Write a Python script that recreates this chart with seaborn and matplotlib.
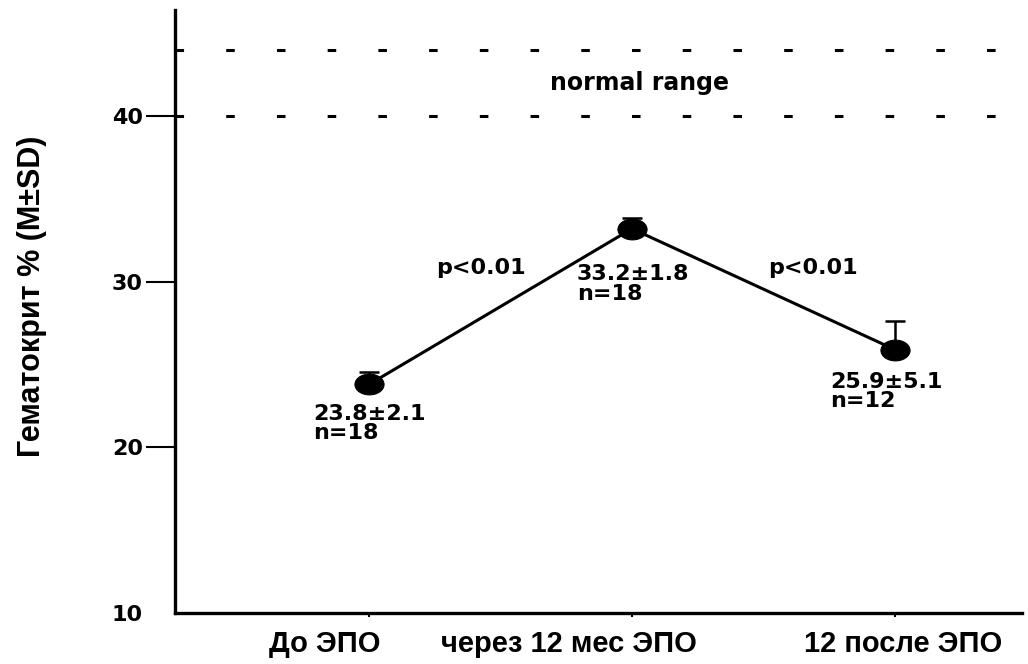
import numpy as np
import pandas as pd
import matplotlib
matplotlib.use("Agg")
import matplotlib.pyplot as plt
import matplotlib.transforms as mtransforms
from matplotlib.path import Path
import seaborn as sns

# ---- data ----
categories = ["До ЭПО", "через 12 мес ЭПО", "12 после ЭПО"]
means = [23.8, 33.2, 25.9]
err_upper = [0.75, 0.65, 1.7]          # drawn (upper) error bars
annot_mean = ["23.8±2.1", "33.2±1.8", "25.9±5.1"]
annot_n = ["n=18", "n=18", "n=12"]
p_labels = ["p<0.01", "p<0.01"]
normal_low, normal_high = 40, 44
yticks = [10, 20, 30, 40]

sns.set_theme(style="white")
plt.rcParams['font.family'] = ['Liberation Sans', 'DejaVu Sans']
plt.rcParams['text.color'] = 'black'
plt.rcParams['axes.labelcolor'] = 'black'
plt.rcParams['xtick.color'] = 'black'
plt.rcParams['ytick.color'] = 'black'

fig = plt.figure(figsize=(10.28, 6.64), dpi=100)
ax = fig.add_axes([0.1702, 0.0768, 0.8239, 0.9081])

pos = np.arange(len(categories))
df = pd.DataFrame({"pos": pos, "mean": means})

# elliptical marker (reference is horizontally stretched)
circ = Path.unit_circle()
ell = Path(circ.vertices * np.array([1.4, 1.0]), circ.codes)

ax.errorbar(pos, means, yerr=[np.zeros(len(means)), err_upper], fmt='none',
            ecolor='black', elinewidth=1.8, capsize=7, capthick=1.8, zorder=2)
sns.lineplot(data=df, x="pos", y="mean", ax=ax, color='black', linewidth=2.2,
             marker=ell, markersize=21, markerfacecolor='black',
             markeredgecolor='black', zorder=3)

# normal range dashed lines
for yv in (normal_low, normal_high):
    ax.axhline(yv, color='black', lw=2.2, linestyle=(0, (2.8, 13.8)), zorder=1)
ax.text(1.03, 42.0, "normal range", ha='center', va='center', color='black',
        fontsize=17, fontweight='bold', family='DejaVu Sans')

# p-values
p_x = [0.426, 1.688]
for px, lab in zip(p_x, p_labels):
    ax.text(px, 30.82, lab, ha='center', va='center', fontsize=16, color='black',
            fontweight='bold', family='DejaVu Sans')

# point annotations
ann_x = [-0.213, 0.791, 1.753]
ann_y = [22.6, 31.05, 24.55]
for xx, yy, m, n in zip(ann_x, ann_y, annot_mean, annot_n):
    ax.text(xx, yy, m + "\n" + n, ha='left', va='top', fontsize=16, color='black',
            fontweight='bold', family='DejaVu Sans', linespacing=0.95)

ax.set_xlim(-0.738, 2.483)
ax.set_ylim(10, 46.4)

# spines
for s in ("top", "right"):
    ax.spines[s].set_visible(False)
for s in ("left", "bottom"):
    ax.spines[s].set_linewidth(2.4)
    ax.spines[s].set_color('black')

ax.set_yticks(yticks)
ax.set_yticklabels([str(t) for t in yticks], fontsize=16, fontweight='bold',
                   family='DejaVu Sans', color='black')
ax.tick_params(axis='y', direction='out', length=21, width=1.5, pad=2,
               colors='black', left=True)
ax.yaxis.get_major_ticks()[0].tick1line.set_visible(False)

ax.set_xticks(pos)
ax.set_xticklabels(categories, fontsize=21, fontweight='bold', color='black')
ax.tick_params(axis='x', direction='out', length=3, width=1.5, pad=9,
               colors='black', bottom=True)
label_dx_px = [-44, -63, 8]
for lab, dx in zip(ax.get_xticklabels(), label_dx_px):
    lab.set_transform(lab.get_transform() +
                      mtransforms.ScaledTranslation(dx / 100, 0, fig.dpi_scale_trans))

ax.set_xlabel("")
ax.set_ylabel("Гематокрит % (M±SD)", fontsize=22, fontweight='bold', color='black')
ax.yaxis.set_label_coords(-0.151, 0.526)

fig.savefig("out.png", dpi=100)
